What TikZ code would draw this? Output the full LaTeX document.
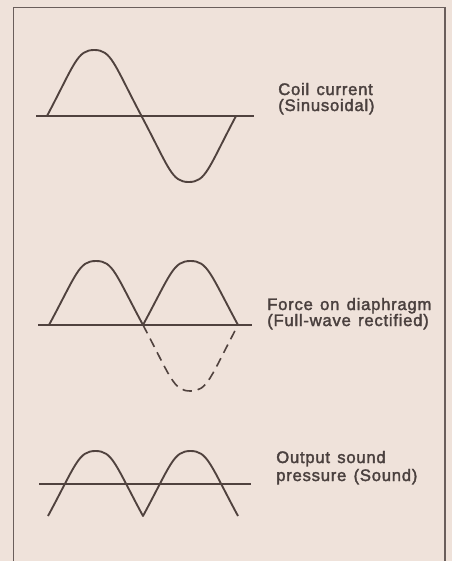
\documentclass[tikz,border=0pt]{standalone}
\usepackage{fontspec}
\setmainfont{Liberation Sans}[LetterSpace=4.5,WordSpace=1.35,FakeBold=2]
\definecolor{paper}{RGB}{239,226,218}
\definecolor{ink}{RGB}{80,66,62}
\definecolor{textink}{RGB}{74,64,62}
\begin{document}
\begin{tikzpicture}[x=0.75pt,y=-0.75pt,
  wave/.style={draw=ink,line width=1.4pt,line join=round},
  axisline/.style={draw=ink,line width=1.2pt},
  framestyle/.style={draw=ink!85,line width=0.9pt},
  lbl/.style={anchor=base west,inner sep=0pt,align=left,text=textink,
    font=\fontsize{12.5pt}{13pt}\selectfont}]
\fill[paper] (0,0) rectangle (452,561);
\useasboundingbox (0,0) rectangle (452,561);
% frame (bottom edge lies outside the picture)
\draw[framestyle] (13.5,565) -- (13.5,7.5) -- (445,7.5) -- (445,565);
% wave 1: coil current
\draw[axisline] (36,116) -- (254,116);
\draw[wave] (47,116) .. controls +(28,-53) and +(-17,0) .. (94.25,50)
  .. controls +(17,0) and +(-28,-53) .. (141.5,116)
  .. controls +(28,53) and +(-17,0) .. (188.75,182)
  .. controls +(17,0) and +(-28,53) .. (236,116);
\node[lbl] (t1) at (278,95) {Coil current};
\node[lbl] (t1b) at (278,111) {(Sinusoidal)};
% wave 2: force on diaphragm
\draw[axisline] (38,325) -- (252,325);
\draw[wave] (49,325) .. controls +(28,-52) and +(-17,0) .. (96,261)
  .. controls +(17,0) and +(-28,-52) .. (143,325)
  .. controls +(28,-52) and +(-17,0) .. (190.5,261)
  .. controls +(17,0) and +(-28,-52) .. (238,325);
\draw[wave,line width=1.2pt,dash pattern=on 7pt off 4.5pt]
  (143,325) .. controls +(28,53) and +(-17,0) .. (190.5,391)
  .. controls +(17,0) and +(-28,53) .. (238,325);
\node[lbl] (t2) at (267,310) {Force on diaphragm};
\node[lbl] (t2b) at (267,326) {(Full-wave rectified)};
% wave 3: output sound pressure
\draw[axisline] (39,484) -- (251,484);
\draw[wave] (48,516) .. controls +(28,-52) and +(-17,0) .. (95.5,451)
  .. controls +(17,0) and +(-28,-52) .. (143,516)
  .. controls +(28,-52) and +(-17,0) .. (190.5,451)
  .. controls +(17,0) and +(-28,-52) .. (238,516);
\node[lbl] (t3) at (276,463) {Output sound};
\node[lbl] (t3b) at (276,481) {pressure (Sound)};
\end{tikzpicture}
\end{document}
